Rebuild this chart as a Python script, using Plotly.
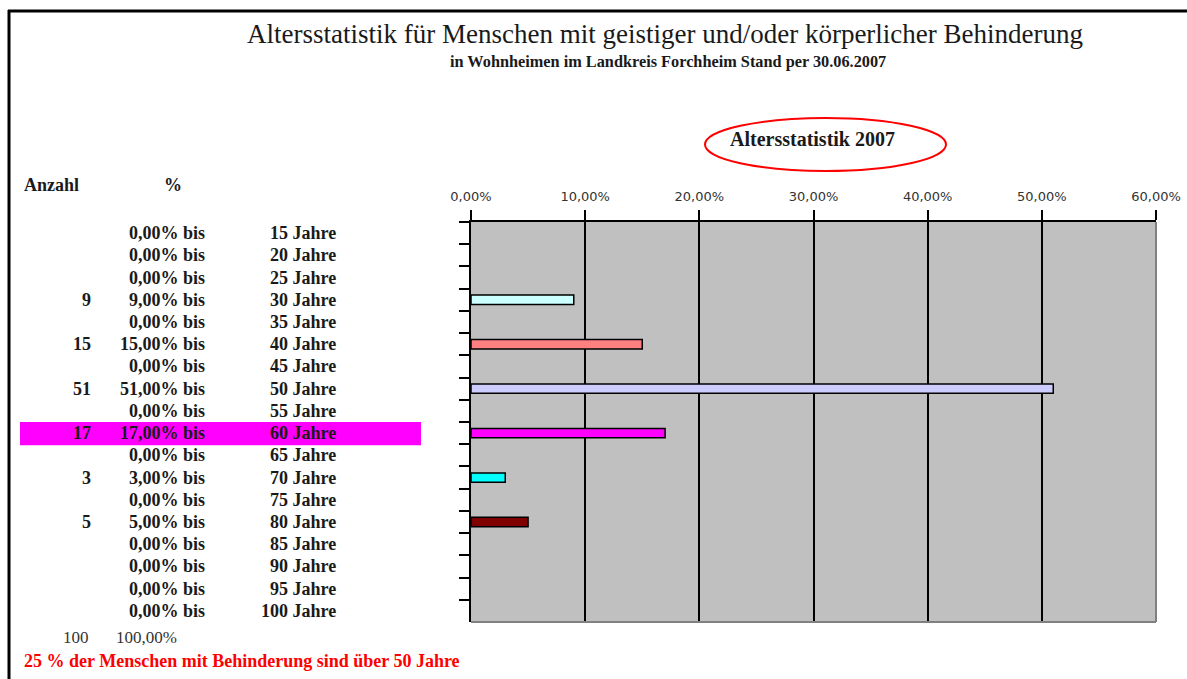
import plotly.graph_objects as go

# ---- data ----
age_labels = ["15 Jahre", "20 Jahre", "25 Jahre", "30 Jahre", "35 Jahre", "40 Jahre",
              "45 Jahre", "50 Jahre", "55 Jahre", "60 Jahre", "65 Jahre", "70 Jahre",
              "75 Jahre", "80 Jahre", "85 Jahre", "90 Jahre", "95 Jahre", "100 Jahre"]
counts = [None, None, None, 9, None, 15, None, 51, None, 17, None, 3, None, 5, None, None, None, None]
percents = [0.0, 0.0, 0.0, 0.09, 0.0, 0.15, 0.0, 0.51, 0.0, 0.17, 0.0, 0.03, 0.0, 0.05, 0.0, 0.0, 0.0, 0.0]
bar_colors = ["#CCFFFF", "#CCFFFF", "#CCFFFF", "#CCFFFF", "#CCFFFF", "#FF8080",
              "#CCFFFF", "#CCCCFF", "#CCFFFF", "#FF00FF", "#CCFFFF", "#00FFFF",
              "#CCFFFF", "#800000", "#CCFFFF", "#CCFFFF", "#CCFFFF", "#CCFFFF"]
x_ticks = [0.0, 0.1, 0.2, 0.3, 0.4, 0.5, 0.6]
total_count = 100
total_pct = "100,00%"
highlight_label = "60 Jahre"

W, H = 1187, 679
def px(x):
    return x / W
def py(y):
    return 1 - y / H

SERIF = "Liberation Serif"
TXT = "#1a1a1a"

fig = go.Figure()
fig.add_trace(go.Bar(
    x=[p if p > 0 else None for p in percents], y=age_labels, orientation="h",
    marker=dict(color=bar_colors, line=dict(color="black", width=1.5)),
    width=0.42, hoverinfo="skip", showlegend=False,
))

annotations = []
def ann(text, x, y, xanchor="left", size=18, bold=False, color=TXT, yref="paper", font=SERIF):
    t = f"<b>{text}</b>" if bold else text
    annotations.append(dict(text=t, x=x, y=y, xref="paper", yref=yref, xanchor=xanchor,
                            yanchor="middle", showarrow=False,
                            font=dict(family=font, size=size, color=color)))

# titles
ann("Altersstatistik für Menschen mit geistiger und/oder körperlicher Behinderung",
    px(665), py(34), xanchor="center", size=27)
ann("in Wohnheimen im Landkreis Forchheim Stand per 30.06.2007",
    px(668), py(61), xanchor="center", size=16.3, bold=True)
ann("Altersstatistik 2007", px(812), py(139), xanchor="center", size=20, bold=True)

# table header
ann("Anzahl", px(22), py(185), size=18, bold=True)
ann("%", px(162), py(185), size=18, bold=True)

# table rows
for lab, c, p in zip(age_labels, counts, percents):
    if c is not None:
        ann(str(c), px(93), lab, xanchor="right", bold=True, yref="y")
    ann(f"{p*100:.2f}%".replace(".", ",") + " bis", px(207), lab, xanchor="right", bold=True, yref="y")
    ann(lab, px(338), lab, xanchor="right", bold=True, yref="y")

ann(str(total_count), px(91), py(637), xanchor="right", size=17, color="#333")
ann(total_pct, px(179), py(637), xanchor="right", size=17, color="#333")
ann("25 % der Menschen mit Behinderung sind über 50 Jahre", px(22), py(661),
    size=18, bold=True, color="#FF0000")

hi = age_labels.index(highlight_label)
shapes = [
    # highlight row
    dict(type="rect", xref="paper", yref="y", x0=px(20), x1=px(421), y0=hi - 0.5, y1=hi + 0.55,
         fillcolor="#FF00FF", line=dict(width=0), layer="below"),
    # page border
    dict(type="line", xref="paper", yref="paper", x0=px(8), x1=1, y0=py(11), y1=py(11),
         line=dict(color="black", width=3)),
    dict(type="line", xref="paper", yref="paper", x0=px(9), x1=px(9), y0=py(10), y1=0,
         line=dict(color="black", width=3)),
    # ellipse
    dict(type="circle", xref="paper", yref="paper", x0=px(705), x1=px(946), y0=py(171), y1=py(118),
         line=dict(color="#FF0000", width=2)),
    # plot right/bottom border
    dict(type="line", xref="x domain", yref="y domain", x0=1, x1=1, y0=0, y1=1,
         line=dict(color="#808080", width=2)),
    dict(type="line", xref="x domain", yref="y domain", x0=0, x1=1, y0=0, y1=0,
         line=dict(color="#808080", width=2)),
]

fig.update_layout(
    width=W, height=H, autosize=False,
    margin=dict(l=0, r=0, t=0, b=0, autoexpand=False),
    paper_bgcolor="white", plot_bgcolor="#C0C0C0",
    separators=",.",
    annotations=annotations, shapes=shapes,
    bargap=0.5,
    xaxis=dict(domain=[px(471), px(1156)], side="top", range=[0, 0.6],
               tickvals=x_ticks, tickformat=".2%", ticks="outside", ticklen=10,
               tickcolor="black", tickwidth=1.5, showline=True, linecolor="black", linewidth=1.5,
               showgrid=True, gridcolor="black", gridwidth=1.5, zeroline=False,
               tickfont=dict(family="DejaVu Sans", size=13, color="#333"),
               ticklabelstandoff=4, fixedrange=True, automargin=False),
    yaxis=dict(domain=[py(622), py(222)], type="category", categoryorder="array",
               categoryarray=age_labels, range=[len(age_labels) - 0.5, -0.5],
               showticklabels=False, ticks="outside", ticklen=10, tickson="boundaries",
               tickcolor="black", tickwidth=1.5, showline=True, linecolor="black", linewidth=1.5,
               showgrid=False, zeroline=False, fixedrange=True, automargin=False),
)

fig.write_html("out.html", config={"displayModeBar": False, "responsive": False},
               post_script="document.body.style.margin='0';document.body.style.overflow='hidden';")
